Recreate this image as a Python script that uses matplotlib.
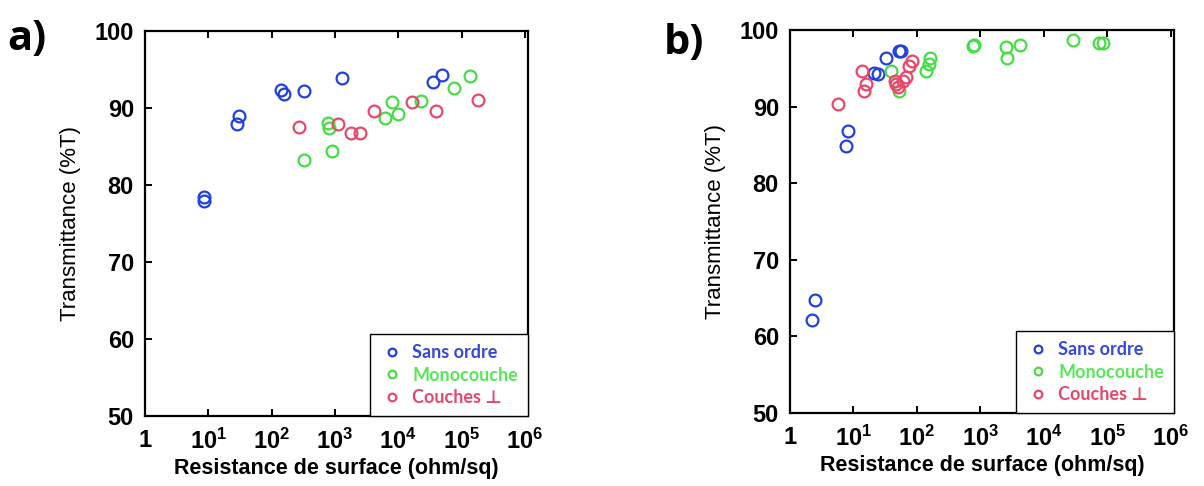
"""Transmittance vs sheet resistance, two panels (a, b) with three film types."""

import math

import matplotlib
matplotlib.use("Agg")

import matplotlib.pyplot as plt
from matplotlib.ticker import FixedLocator, FuncFormatter

plt.rcParams["font.family"] = ["Liberation Sans", "DejaVu Sans"]
plt.rcParams["mathtext.fontset"] = "custom"
plt.rcParams["mathtext.bf"] = "Liberation Sans:bold"
plt.rcParams["mathtext.rm"] = "Liberation Sans:bold"

LABELS = ["Sans ordre", "Monocouche", "Couches ⊥"]
COLORS = ["#2040e0", "#44dd44", "#e8486a"]
TEXT_COLORS = ["#3448dc", "#5ae65a", "#e4486c"]

# --- panel a) ---
a_sans_r = [8.6, 8.7, 30.6, 28.8, 142, 155, 327, 1280, 35200, 49900]
a_sans_t = [78.5, 77.9, 89.0, 87.9, 92.4, 91.8, 92.2, 93.9, 93.4, 94.3]
a_mono_r = [323, 903, 782, 797, 7850, 6170, 9770, 22700, 76200, 134000]
a_mono_t = [83.3, 84.4, 88.0, 87.4, 90.8, 88.7, 89.2, 90.9, 92.6, 94.2]
a_couches_r = [269, 1120, 1820, 2490, 4190, 16600, 39200, 184000]
a_couches_t = [87.5, 87.9, 86.7, 86.7, 89.6, 90.8, 89.6, 91.1]

# --- panel b) ---
b_sans_r = [2.2, 2.5, 7.7, 8.1, 21.1, 24.3, 32.8, 53, 56]
b_sans_t = [62.1, 64.7, 84.9, 86.8, 94.4, 94.3, 96.3, 97.3, 97.2]
b_mono_r = [38.4, 53, 138, 152, 158, 753, 798, 2490, 2630, 4150, 28800, 75000, 85000]
b_mono_t = [94.7, 92.1, 94.7, 95.6, 96.3, 97.9, 98.1, 97.8, 96.3, 98.1, 98.7, 98.3, 98.3]
b_couches_r = [5.7, 13.6, 15.7, 14.4, 45.9, 49.9, 47, 59.7, 66.4, 74, 82.4]
b_couches_t = [90.4, 94.6, 93.0, 92.0, 93.4, 92.5, 93.0, 93.3, 93.8, 95.3, 96.0]

DECADES = [1, 10, 1e2, 1e3, 1e4, 1e5, 1e6]
Y_TICKS = [50, 60, 70, 80, 90, 100]


def decade_label(v, pos):
    if v == 1:
        return "1"
    return r"$\mathbf{10^{%d}}$" % round(math.log10(v))


def draw_panel(ax, series):
    for (r, t), color, label in zip(series, COLORS, LABELS):
        ax.plot(r, t, "o", ms=8.5, mfc="none", mec=color, mew=1.6,
                label=label, linestyle="none")
    ax.set_xscale("log")
    ax.set_xlim(1, 1.12e6)
    ax.set_ylim(50, 100)
    ax.xaxis.set_major_locator(FixedLocator(DECADES))
    ax.xaxis.set_minor_locator(FixedLocator([]))
    ax.xaxis.set_major_formatter(FuncFormatter(decade_label))
    ax.set_yticks(Y_TICKS)
    ax.tick_params(axis="both", direction="in", length=5, width=1.4,
                   top=True, right=False)
    ax.tick_params(axis="x", labelsize=17, pad=9)
    ax.tick_params(axis="y", labelsize=17, pad=8)
    for lbl in ax.get_yticklabels():
        lbl.set_fontweight("bold")
    for lbl in ax.get_xticklabels():
        lbl.set_fontweight("bold")
    for sp in ax.spines.values():
        sp.set_linewidth(1.6)
    ax.set_xlabel("Resistance de surface (ohm/sq)", fontsize=15.5,
                  fontweight="bold", labelpad=3)
    ax.set_ylabel("Transmittance (%T)", fontsize=16, labelpad=10)

    leg = ax.legend(loc="lower right", borderaxespad=0, fancybox=False,
                    edgecolor="black", framealpha=1, markerscale=0.65,
                    handletextpad=0.4, handlelength=1.4, borderpad=0.55,
                    labelspacing=0.3,
                    prop={"family": ["Lato", "DejaVu Sans"], "weight": "bold", "size": 13})
    leg.get_frame().set_linewidth(1.0)
    for txt, c in zip(leg.get_texts(), TEXT_COLORS):
        txt.set_color(c)


fig = plt.figure(figsize=(12.04, 4.86), dpi=100)
ax_a = fig.add_axes([145 / 1204, 70 / 486, 383 / 1204, 385 / 486])
ax_b = fig.add_axes([790 / 1204, 73 / 486, 384 / 1204, 383 / 486])

draw_panel(ax_a, [(a_sans_r, a_sans_t), (a_mono_r, a_mono_t), (a_couches_r, a_couches_t)])
draw_panel(ax_b, [(b_sans_r, b_sans_t), (b_mono_r, b_mono_t), (b_couches_r, b_couches_t)])

fig.text(27 / 1204, 1 - 40 / 486, "a)", fontsize=30, fontweight="bold",
         family=["Open Sans", "DejaVu Sans"], ha="center", va="center")
fig.text(684 / 1204, 1 - 44 / 486, "b)", fontsize=30, fontweight="bold",
         family=["Open Sans", "DejaVu Sans"], ha="center", va="center")

fig.savefig("out.png", dpi=100)
